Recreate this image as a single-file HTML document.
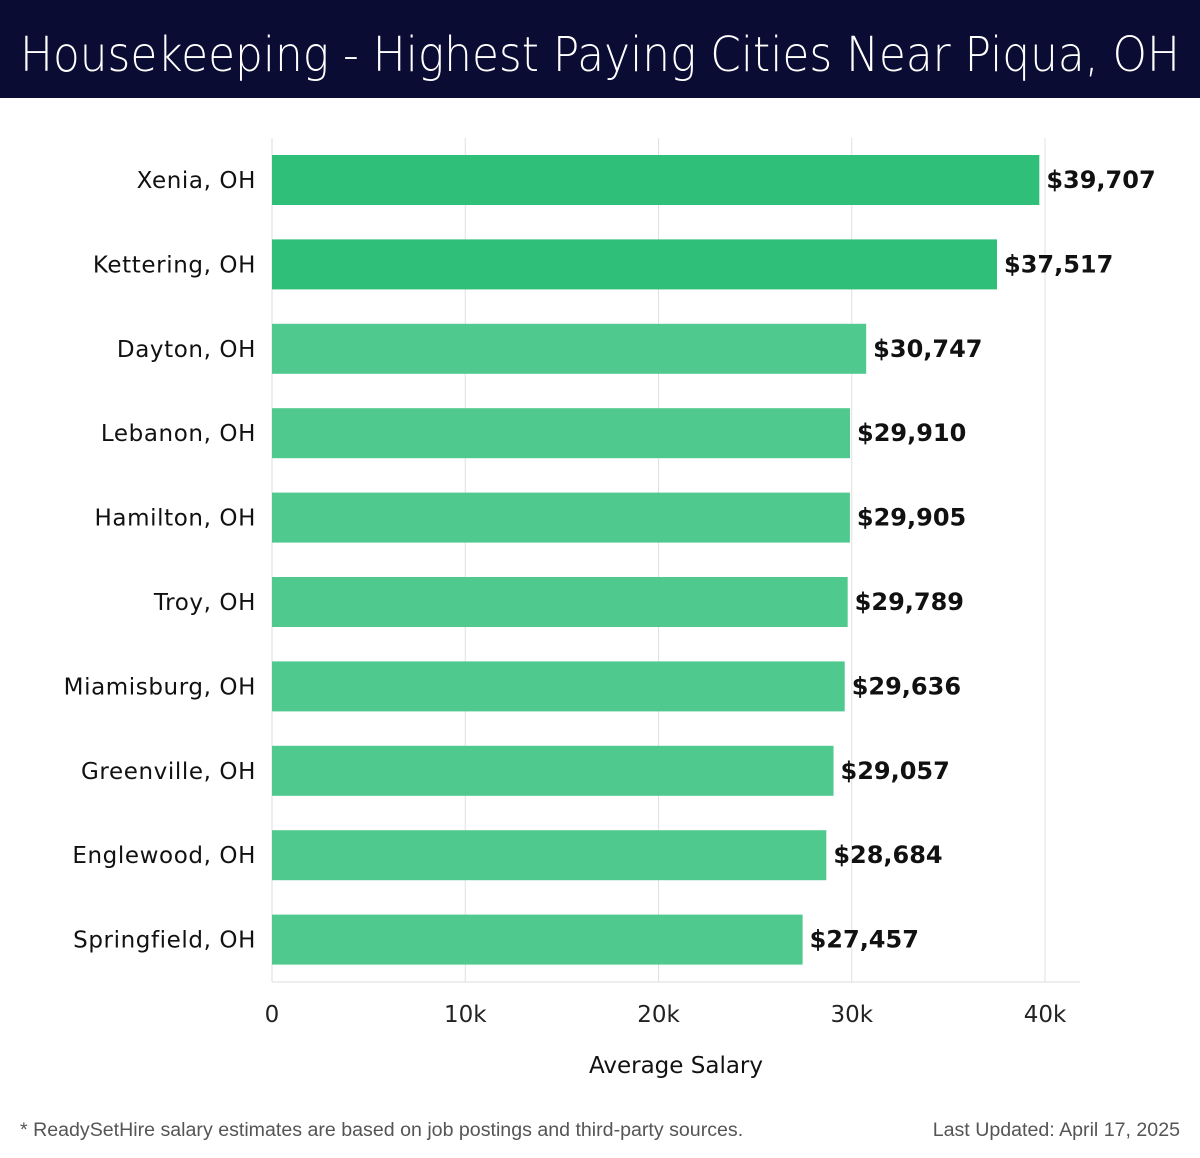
<!DOCTYPE html>
<html><head><meta charset="utf-8"><style>
body{margin:0;width:1200px;height:1158px;background:#fff;font-family:"Liberation Sans","DejaVu Sans",sans-serif;overflow:hidden;position:relative}
#hdr{position:absolute;left:0;top:0;width:1200px;height:98px;background:#0b0c33}
.foot{position:absolute;top:1119px;font-size:19.6px;color:#555;font-family:"Liberation Sans",sans-serif}
</style></head><body>
<div id="hdr">
<svg width="1200" height="98"><text x="20" y="71" textLength="1160" lengthAdjust="spacingAndGlyphs" font-size="48" fill="#fff" font-family="DejaVu Sans, sans-serif" font-weight="300">Housekeeping - Highest Paying Cities Near Piqua, OH</text></svg>
</div>
<svg id="chart" width="1200" height="1158" style="position:absolute;left:0;top:0"></svg>
<div class="foot" style="left:20px">* ReadySetHire salary estimates are based on job postings and third-party sources.</div>
<div class="foot" style="right:20px">Last Updated: April 17, 2025</div>
<script>
const cities=["Xenia, OH","Kettering, OH","Dayton, OH","Lebanon, OH","Hamilton, OH","Troy, OH","Miamisburg, OH","Greenville, OH","Englewood, OH","Springfield, OH"];
const salaries=[39707,37517,30747,29910,29905,29789,29636,29057,28684,27457];
const ticks=[0,10000,20000,30000,40000];
const tickLabels=["0","10k","20k","30k","40k"];
(function(){
const NS="http://www.w3.org/2000/svg";
const svg=document.getElementById('chart');
const x0=272,x1=1045,pTop=138,pBottom=982,xMax=40000;
const xs=v=>x0+(v/xMax)*(x1-x0);
const band=(pBottom-pTop)/cities.length;
const ys=i=>pTop+i*band+17;
function mk(t,a){const e=document.createElementNS(NS,t);for(const k in a)e.setAttribute(k,a[k]);svg.appendChild(e);return e;}
ticks.forEach((t,i)=>{
  const g=mk('line',{x1:xs(t),x2:xs(t),y1:pTop,y2:pBottom,stroke:'#e0e0e0','stroke-width':1});
  
  
  const l=mk('text',{x:xs(t),y:1022,'text-anchor':'middle','font-size':23,fill:'#222','font-family':'DejaVu Sans, sans-serif'});
  l.textContent=tickLabels[i];
  
  
});
const ax=mk('line',{x1:x0,x2:1080,y1:pBottom,y2:pBottom,stroke:'#ddd','stroke-width':1});


const ay=mk('line',{x1:x0,x2:x0,y1:pTop,y2:pBottom,stroke:'#ddd','stroke-width':1});


cities.forEach((c,i)=>{
  const y=ys(i);
  const b=mk('rect',{x:x0,y:y,width:xs(salaries[i])-x0,height:50,fill:i<2?'#2fbf78':'#50c98f'});
  
  
  const l=mk('text',{x:256,y:y+33,'text-anchor':'end','font-size':23,'letter-spacing':0.6,fill:'#111','font-family':'DejaVu Sans, sans-serif'});
  l.textContent=c;
  
  
  const v=mk('text',{x:xs(salaries[i])+7,y:y+33,'font-size':24,'font-weight':'bold',fill:'#111','font-family':'DejaVu Sans, sans-serif'});
  v.textContent='$'+salaries[i].toLocaleString('en-US');
  
  
});
const t=mk('text',{x:676,y:1073,'text-anchor':'middle','font-size':23,fill:'#111','font-family':'DejaVu Sans, sans-serif'});
t.textContent='Average Salary';


})();
</script>
</body></html>
